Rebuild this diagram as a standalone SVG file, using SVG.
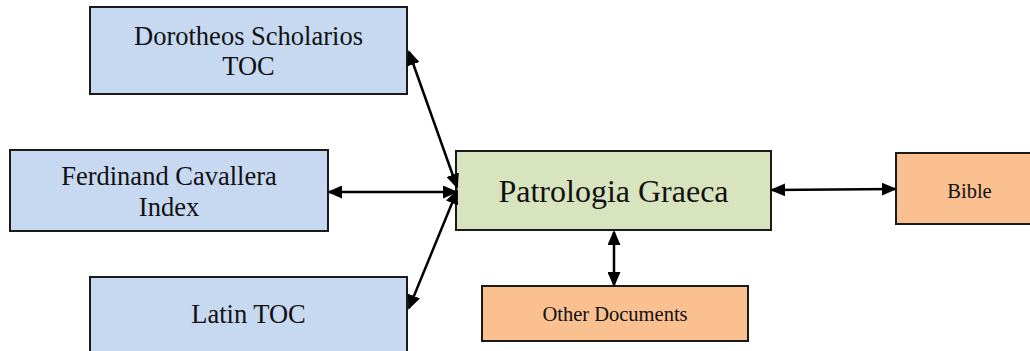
<svg xmlns="http://www.w3.org/2000/svg" width="1030" height="351" viewBox="0 0 1030 351">
<style>
.box{stroke:#1a1a1a;stroke-width:2}
.blue{fill:#c6d9f1}
.green{fill:#d7e4bd}
.orange{fill:#fac090}
text{font-family:"Liberation Serif","Times New Roman",serif;fill:#111;text-anchor:middle}
.lbl{font-size:26.5px}
.big{font-size:32px}
.small{font-size:20.5px}
.conn line{stroke:#000;stroke-width:2.5;marker-start:url(#ah);marker-end:url(#ah)}
</style>
<defs>
<marker id="ah" markerUnits="userSpaceOnUse" markerWidth="15" markerHeight="13" refX="13" refY="6.5" orient="auto-start-reverse">
<path d="M0,0 L15,6.5 L0,13 z" fill="#000"/>
</marker>
</defs>
<rect width="1030" height="351" fill="#fff"/>
<g id="dorotheos">
<rect class="box blue" x="90" y="7" width="317" height="87"/>
<text class="lbl" x="248.5" y="45">Dorotheos Scholarios</text>
<text class="lbl" x="248.5" y="75">TOC</text>
</g>
<g id="ferdinand">
<rect class="box blue" x="10" y="150" width="318" height="81"/>
<text class="lbl" x="169" y="185">Ferdinand Cavallera</text>
<text class="lbl" x="169" y="216">Index</text>
</g>
<g id="latin">
<rect class="box blue" x="90" y="277" width="317" height="90"/>
<text class="lbl" x="248.5" y="323">Latin TOC</text>
</g>
<g id="pg">
<rect class="box green" x="456" y="151" width="315" height="79"/>
<text class="big" x="613.5" y="202">Patrologia Graeca</text>
</g>
<g id="bible">
<rect class="box orange" x="896" y="153" width="140" height="71"/>
<text class="small" x="969.5" y="198">Bible</text>
</g>
<g id="other">
<rect class="box orange" x="482" y="286" width="266" height="55"/>
<text class="small" x="615" y="321">Other Documents</text>
</g>
<g class="conn" id="connectors">
<line x1="457" y1="187" x2="409" y2="52"/>
<line x1="329" y1="192" x2="456" y2="192"/>
<line x1="457" y1="191" x2="409" y2="308"/>
<line x1="772" y1="190" x2="895" y2="189"/>
<line x1="614" y1="232" x2="614" y2="285"/>
</g>
</svg>
